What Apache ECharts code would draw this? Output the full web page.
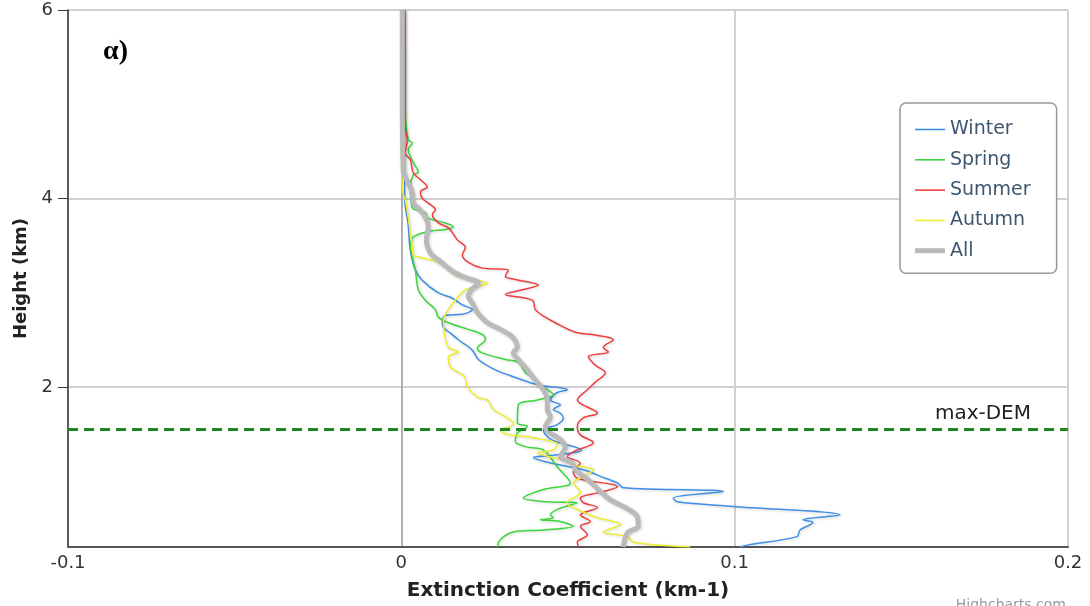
<!DOCTYPE html>
<html>
<head>
<meta charset="utf-8">
<script src="https://cdn.jsdelivr.net/npm/echarts@6/dist/echarts.min.js"></script>
<style>
  html, body { margin: 0; padding: 0; background: #fff; }
  #chart { width: 1090px; height: 606px; }
</style>
</head>
<body>
<div id="chart"></div>
<script>
// profiles: [extinction (km-1), height (km)]
var winter = [[0.001, 6.0], [0.001, 5.0], [0.001, 4.4], [0.001, 4.0], [0.002, 3.74], [0.0027, 3.45], [0.0042, 3.24], [0.0063, 3.13], [0.011, 3.0], [0.0153, 2.94], [0.0183, 2.87], [0.0213, 2.82], [0.0183, 2.77], [0.0132, 2.76], [0.0123, 2.68], [0.0126, 2.63], [0.0147, 2.57], [0.0171, 2.5], [0.0213, 2.39], [0.0231, 2.29], [0.0282, 2.18], [0.0342, 2.1], [0.0411, 2.02], [0.0477, 1.99], [0.0498, 1.97], [0.0468, 1.94], [0.0447, 1.86], [0.0477, 1.81], [0.0456, 1.76], [0.0477, 1.72], [0.0486, 1.67], [0.0468, 1.6], [0.0426, 1.54], [0.045, 1.44], [0.054, 1.33], [0.0447, 1.27], [0.0396, 1.25], [0.0438, 1.2], [0.0546, 1.12], [0.0597, 1.05], [0.0648, 0.98], [0.0666, 0.93], [0.0966, 0.89], [0.0816, 0.82], [0.0828, 0.78], [0.0996, 0.73], [0.1316, 0.64], [0.1205, 0.59], [0.1235, 0.56], [0.1196, 0.48], [0.1187, 0.41], [0.1037, 0.32], [0.1016, 0.3]]
var spring = [[0.001, 6.0], [0.0012, 5.54], [0.0012, 4.94], [0.0021, 4.62], [0.0033, 4.59], [0.0021, 4.52], [0.0036, 4.38], [0.0051, 4.28], [0.0036, 4.25], [0.0027, 4.12], [0.0033, 3.9], [0.0072, 3.85], [0.0081, 3.79], [0.0132, 3.74], [0.0156, 3.7], [0.0132, 3.67], [0.0081, 3.65], [0.0036, 3.59], [0.0027, 3.49], [0.0033, 3.38], [0.0042, 3.24], [0.0051, 3.03], [0.0072, 2.92], [0.0102, 2.82], [0.0111, 2.74], [0.0141, 2.68], [0.0201, 2.61], [0.0246, 2.55], [0.0252, 2.5], [0.0228, 2.41], [0.0243, 2.36], [0.0312, 2.29], [0.0351, 2.26], [0.0372, 2.15], [0.0393, 2.1], [0.0423, 2.0], [0.0438, 1.97], [0.0456, 1.92], [0.0408, 1.86], [0.0351, 1.81], [0.0348, 1.62], [0.0378, 1.58], [0.0348, 1.51], [0.0342, 1.42], [0.0378, 1.36], [0.0426, 1.33], [0.0468, 1.15], [0.0507, 0.98], [0.0426, 0.91], [0.0366, 0.82], [0.0438, 0.78], [0.0528, 0.77], [0.0468, 0.7], [0.0447, 0.64], [0.0456, 0.61], [0.0417, 0.59], [0.0477, 0.57], [0.0516, 0.52], [0.0426, 0.48], [0.0336, 0.46], [0.0297, 0.38], [0.0288, 0.3]]
var summer = [[0.001, 6.0], [0.001, 4.83], [0.0012, 4.73], [0.0018, 4.62], [0.0012, 4.48], [0.0027, 4.41], [0.0036, 4.27], [0.0057, 4.2], [0.0078, 4.12], [0.0057, 4.07], [0.0063, 4.0], [0.0081, 3.95], [0.0102, 3.88], [0.0093, 3.83], [0.0111, 3.74], [0.0141, 3.69], [0.0168, 3.56], [0.0192, 3.48], [0.0183, 3.4], [0.0201, 3.32], [0.0243, 3.26], [0.0321, 3.24], [0.0312, 3.17], [0.0342, 3.14], [0.0411, 3.08], [0.0363, 3.03], [0.0312, 2.98], [0.0393, 2.92], [0.0402, 2.82], [0.0432, 2.74], [0.0462, 2.68], [0.0522, 2.58], [0.0582, 2.55], [0.0636, 2.5], [0.0606, 2.42], [0.0621, 2.37], [0.0561, 2.32], [0.0582, 2.23], [0.0612, 2.15], [0.0582, 2.05], [0.0558, 1.97], [0.0528, 1.86], [0.0588, 1.72], [0.0546, 1.67], [0.0528, 1.58], [0.0537, 1.49], [0.0576, 1.41], [0.0516, 1.31], [0.0498, 1.26], [0.0537, 1.19], [0.0516, 1.1], [0.0528, 1.03], [0.0648, 0.94], [0.0597, 0.88], [0.0537, 0.82], [0.0546, 0.77], [0.0588, 0.72], [0.0537, 0.64], [0.0567, 0.57], [0.0537, 0.52], [0.0558, 0.43], [0.0528, 0.35], [0.0531, 0.3]]
var autumn = [[0.0, 6.0], [0.0, 4.73], [0.0003, 4.09], [0.0012, 3.98], [0.0021, 3.8], [0.0027, 3.63], [0.0033, 3.49], [0.0036, 3.4], [0.0063, 3.37], [0.0111, 3.32], [0.0141, 3.24], [0.0171, 3.17], [0.0213, 3.14], [0.0258, 3.1], [0.0222, 3.06], [0.0192, 3.03], [0.0162, 2.92], [0.0141, 2.82], [0.0126, 2.71], [0.0129, 2.57], [0.0141, 2.42], [0.0171, 2.37], [0.0141, 2.32], [0.0147, 2.21], [0.0189, 2.11], [0.0198, 2.0], [0.0228, 1.89], [0.0258, 1.86], [0.0276, 1.76], [0.0327, 1.65], [0.0336, 1.6], [0.0297, 1.54], [0.0327, 1.49], [0.0378, 1.47], [0.0468, 1.39], [0.0456, 1.33], [0.0408, 1.3], [0.0477, 1.23], [0.0516, 1.17], [0.0576, 1.12], [0.0546, 1.05], [0.0516, 0.98], [0.0537, 0.88], [0.0498, 0.77], [0.0546, 0.67], [0.0588, 0.61], [0.0657, 0.54], [0.0606, 0.46], [0.0678, 0.41], [0.0696, 0.35], [0.0867, 0.3]]
var all = [[0.0003, 6.0], [0.0003, 5.05], [0.0006, 4.3], [0.0021, 4.16], [0.0033, 4.06], [0.0036, 3.95], [0.0051, 3.9], [0.0072, 3.8], [0.0081, 3.7], [0.0075, 3.56], [0.0087, 3.42], [0.0117, 3.33], [0.0156, 3.22], [0.0192, 3.16], [0.0231, 3.1], [0.021, 3.03], [0.0201, 2.96], [0.0213, 2.89], [0.0228, 2.79], [0.0258, 2.68], [0.0297, 2.61], [0.0333, 2.53], [0.0348, 2.42], [0.0336, 2.36], [0.0351, 2.29], [0.0378, 2.18], [0.0402, 2.07], [0.0426, 1.97], [0.0438, 1.86], [0.0438, 1.76], [0.0447, 1.68], [0.0432, 1.58], [0.0447, 1.51], [0.0477, 1.44], [0.0492, 1.36], [0.0477, 1.26], [0.0513, 1.19], [0.0522, 1.12], [0.0561, 1.01], [0.0591, 0.91], [0.0627, 0.8], [0.0681, 0.7], [0.0708, 0.62], [0.0711, 0.52], [0.0678, 0.45], [0.0666, 0.3]]

var seriesNames = ['Winter', 'Spring', 'Summer', 'Autumn', 'All']
var seriesColors = ['#3d8fe8', '#3bd83b', '#ef3d3d', '#eeee2e', '#bababa']
var yTicks = [2, 4, 6]
var demHeight = 1.55

var chart = echarts.init(document.getElementById('chart'))
var profiles = [winter, spring, summer, autumn, all]

var series = profiles.map(function (d, i) {
  var s = {
    name: seriesNames[i],
    type: 'line',
    data: d,
    symbol: 'none',
    smooth: 0.35,
    silent: true,
    color: seriesColors[i],
    lineStyle: {
      color: seriesColors[i],
      width: i === 4 ? 5 : 1.5,
      shadowColor: 'rgba(0,0,0,0.18)',
      shadowBlur: 3,
      shadowOffsetX: 1,
      shadowOffsetY: 1
    }
  }
  if (i === 4) {
    s.markLine = {
      silent: true,
      symbol: ['none', 'none'],
      lineStyle: { color: '#1c8a1c', width: 3, type: [10, 6], shadowBlur: 0 },
      label: {
        show: true,
        position: 'insideEndTop',
        formatter: 'max-DEM',
        color: '#222',
        fontSize: 20,
        fontFamily: 'DejaVu Sans',
        padding: [0, 32, 0, 0]
      },
      data: [{ yAxis: demHeight }]
    }
  }
  return s
})

var legendItems = seriesNames.map(function (n, i) {
  return { name: n, icon: i === 4 ? 'path://M0,0H30V5H0Z' : 'path://M0,0H30V1.6H0Z' }
})

var option = {
  animation: false,
  backgroundColor: '#fff',
  grid: { left: 68, right: 22, top: 10, bottom: 59 },
  legend: {
    orient: 'vertical',
    left: 900,
    top: 103,
    padding: [17, 26, 13, 15],
    itemWidth: 30,
    itemHeight: 14,
    itemGap: 11.3,
    borderColor: '#999',
    borderWidth: 1.5,
    borderRadius: 6,
    backgroundColor: '#fff',
    textStyle: { color: '#3e576f', fontSize: 19, fontFamily: 'DejaVu Sans' },
    data: legendItems
  },
  xAxis: {
    type: 'value',
    min: -0.1,
    max: 0.2,
    interval: 0.1,
    name: 'Extinction Coefficient (km-1)',
    nameLocation: 'middle',
    nameGap: 34,
    nameTextStyle: { fontWeight: 'bold', fontSize: 20, color: '#222', fontFamily: 'DejaVu Sans' },
    axisLine: { show: true, onZero: false, lineStyle: { color: '#555', width: 2 } },
    axisTick: { show: false },
    axisLabel: { color: '#333', fontSize: 18, margin: 7, fontFamily: 'DejaVu Sans' },
    splitLine: { show: true, lineStyle: { color: ['#d0d0d0', '#b0b0b0', '#d0d0d0', '#d0d0d0'], width: 2 } }
  },
  yAxis: {
    type: 'value',
    min: 0.3,
    max: 6,
    name: 'Height (km)',
    nameLocation: 'middle',
    nameGap: 34,
    nameTextStyle: { fontWeight: 'bold', fontSize: 18, color: '#222', fontFamily: 'DejaVu Sans' },
    axisLine: { show: true, onZero: false, lineStyle: { color: '#333', width: 1.5 } },
    axisTick: { show: true, length: 10, customValues: yTicks, lineStyle: { color: '#333' } },
    axisLabel: { color: '#333', fontSize: 18, margin: 15, customValues: yTicks, fontFamily: 'DejaVu Sans' },
    splitLine: { show: true, lineStyle: { color: '#d0d0d0', width: 2 } }
  },
  graphic: [
    {
      type: 'text',
      left: 103,
      top: 38,
      style: { text: 'α)', font: 'bold 28px "Liberation Serif"', fill: '#000' }
    },
    {
      type: 'text',
      right: 24,
      top: 598,
      style: { text: 'Highcharts.com', font: '14px "DejaVu Sans"', fill: '#999' }
    }
  ],
  series: series
}

chart.setOption(option)
</script>
</body>
</html>
